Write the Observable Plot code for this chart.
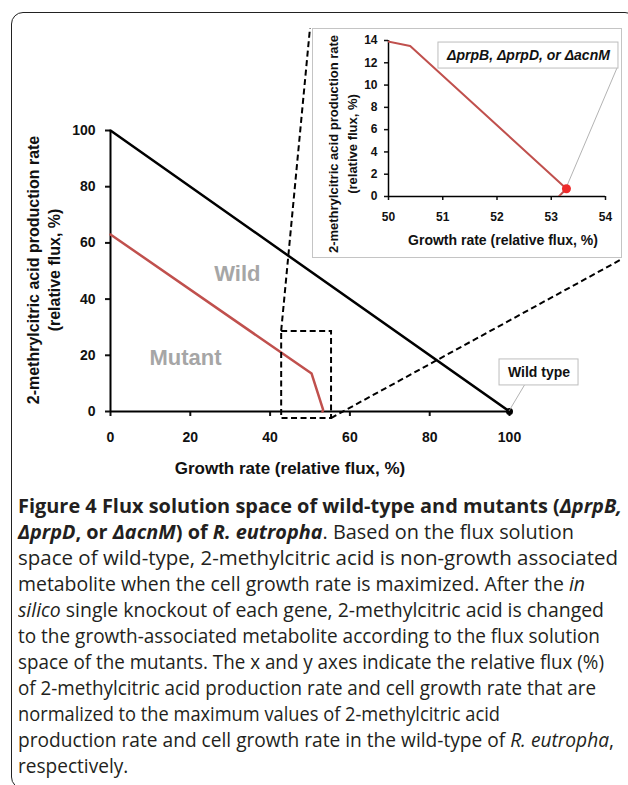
<!DOCTYPE html>
<html><head><meta charset="utf-8">
<script src="https://cdn.jsdelivr.net/npm/d3@7"></script>
<script src="https://cdn.jsdelivr.net/npm/@observablehq/plot@0.6"></script>
<style>
html,body{margin:0;padding:0;background:#fff;width:628px;height:785px;overflow:hidden}
#wrap{position:relative;width:628px;height:785px;overflow:hidden}
#frame{position:absolute;left:11px;top:12px;width:626px;height:777px;border:1.5px solid #222;border-radius:12px;box-sizing:border-box}
#main{position:absolute;left:0;top:0}
#inset{position:absolute;left:312px;top:28px;width:310px;height:230px;background:#fff}
#inset svg{outline:1px solid #c4c4c4;outline-offset:-1px}
#main g[aria-label*="axis"] line,#main g[aria-label*="axis"] path{stroke-width:2px}
#inset g[aria-label*="axis"] line,#inset g[aria-label*="axis"] path{stroke-width:1.5px}
#caption{position:absolute;left:18px;top:493px;font-family:"Open Sans",sans-serif;font-size:19.5px;line-height:26px;color:#231f20;white-space:nowrap}
#caption .ln{display:block;height:26px}
#caption .ln span{display:inline-block;transform-origin:0 50%}
</style></head>
<body><div id="wrap"><div id="frame"></div><div id="main"></div><div id="inset"></div><div id="caption"></div></div>
<script>
// ---- data ----
const wildX = [0, 100];
const wildY = [100, 0];
const mutantX = [0, 50.4, 53.28, 53.14];
const mutantY = [63, 13.5, 0.7, 0];
const mutantEndX = [53.28];
const mutantEndY = [0.7];
const wildEndX = [100];
const wildEndY = [0];
const mainXTicks = [0, 20, 40, 60, 80, 100];
const mainYTicks = [0, 20, 40, 60, 80, 100];
const insetXTicks = [50, 51, 52, 53, 54];
const insetYTicks = [0, 2, 4, 6, 8, 10, 12, 14];
const zoomX = [42.9, 55.4];
const zoomY = [-2.5, 28.5];
const regionNames = ["Wild", "Mutant"];
const regionX = [31.8, 18.8];
const regionY = [48.8, 19.2];
const wildLabel = ["Wild type"];
const wildLabelX = [107.4];
const wildLabelY = [13.9];
const mutLabel = ["\u0394prpB, \u0394prpD, or \u0394acnM"];
const mutLabelX = [52.58];
const mutLabelY = [12.65];
const yTitle = ["2-methrylcitric acid production rate", "(relative flux, %)"];
const xTitle = "Growth rate (relative flux, %)";
const captionLines = [
  '<b>Figure 4 Flux solution space of wild-type and mutants (<i>\u0394prpB,</i></b>',
  '<b><i>\u0394prpD</i>, or <i>\u0394acnM</i>) of <i>R. eutropha</i></b>. Based on the flux solution',
  'space of wild-type, 2-methylcitric acid is non-growth associated',
  'metabolite when the cell growth rate is maximized. After the <i>in</i>',
  '<i>silico</i> single knockout of each gene, 2-methylcitric acid is changed',
  'to the growth-associated metabolite according to the flux solution',
  'space of the mutants. The x and y axes indicate the relative flux (%)',
  'of 2-methylcitric acid production rate and cell growth rate that are',
  'normalized to the maximum values of 2-methylcitric acid',
  'production rate and cell growth rate in the wild-type of <i>R. eutropha</i>,',
  'respectively.'
];
// right edge of each caption line in the reference (layout)
const captionRight = [622, 574, 618, 585, 604, 600, 604, 596, 500, 614, 114];

const F = '"Liberation Sans", Arial, Helvetica, sans-serif';
const pts = (xs, ys) => xs.map((x, i) => ({x, y: ys[i]}));
const wild = pts(wildX, wildY);
const mutant = pts(mutantX, mutantY);
const zoomBox = [{x1: zoomX[0], x2: zoomX[1], y1: zoomY[0], y2: zoomY[1]}];
const regions = regionNames.map((t, i) => ({t, x: regionX[i], y: regionY[i]}));

// inset box placement (layout)
const IN = {left: 312, top: 28, w: 310, h: 230};

function textEl(g, x, y, str, opts) {
  return g.append("text").attr("transform", `translate(${x},${y}) rotate(${opts.rotate || 0})`)
    .attr("text-anchor", "middle").attr("dy", "0.35em")
    .attr("font-family", F).attr("font-weight", "bold").attr("font-size", opts.size)
    .attr("fill", "#111").text(str);
}

const main = Plot.plot({
  width: 628, height: 490,
  marginLeft: 110, marginRight: 119, marginTop: 130, marginBottom: 79,
  style: {fontFamily: F, fontSize: "14px", fontWeight: "bold", color: "#111", background: "transparent", overflow: "visible"},
  x: {domain: [0, 100], ticks: mainXTicks, tickSize: 5, tickPadding: 16, label: null, tickFormat: d3.format("d")},
  y: {domain: [0, 100], ticks: mainYTicks, tickSize: 5, tickPadding: 10, label: null, tickFormat: d3.format("d")},
  marks: [
    Plot.ruleY([0], {x1: 0, x2: 100, stroke: "#000", strokeWidth: 2}),
    Plot.ruleX([0], {y1: 0, y2: 100, stroke: "#000", strokeWidth: 2}),
    Plot.line(wild, {x: "x", y: "y", stroke: "#000", strokeWidth: 2.5}),
    Plot.line(mutant, {x: "x", y: "y", stroke: "#c0504d", strokeWidth: 2.5}),
    Plot.dot(pts(wildEndX, wildEndY), {x: "x", y: "y", r: 3.5, fill: "#000"}),
    Plot.rect(zoomBox, {x1: "x1", x2: "x2", y1: "y1", y2: "y2", fill: "none", stroke: "#000", strokeWidth: 2, strokeDasharray: "6,3.5"}),
    Plot.text(regions, {x: "x", y: "y", text: "t", fill: "#a6a6a6", fontSize: 22, fontWeight: "bold"}),
    (index, scales) => {
      const sx = scales.x, sy = scales.y;
      const g = d3.create("svg:g");
      g.append("line").attr("x1", sx(zoomX[0])).attr("y1", sy(zoomY[1])).attr("x2", IN.left - 2).attr("y2", IN.top)
        .attr("stroke", "#000").attr("stroke-width", 2).attr("stroke-dasharray", "6,3.5");
      g.append("line").attr("x1", sx(zoomX[1])).attr("y1", sy(zoomY[0])).attr("x2", IN.left + IN.w).attr("y2", IN.top + IN.h + 1)
        .attr("stroke", "#000").attr("stroke-width", 2).attr("stroke-dasharray", "6,3.5");
      const cx = sx(wildLabelX[0]), cy = sy(wildLabelY[0]);
      g.append("line").attr("x1", cx - 14).attr("y1", cy + 13).attr("x2", sx(wildEndX[0])).attr("y2", sy(wildEndY[0]))
        .attr("stroke", "#a0a0a0").attr("stroke-width", 0.8);
      g.append("rect").attr("x", cx - 39.5).attr("y", cy - 13).attr("width", 79).attr("height", 26)
        .attr("fill", "#fff").attr("stroke", "#bdbdbd").attr("stroke-width", 1);
      textEl(g, 290, 468, xTitle, {size: 17});
      textEl(g, 33, 270, yTitle[0], {size: 16, rotate: -90});
      textEl(g, 54, 270, yTitle[1], {size: 16, rotate: -90});
      return g.node();
    },
    Plot.text(wildLabel, {x: wildLabelX, y: wildLabelY, text: d => d, fontSize: 14, fontWeight: "bold", fill: "#111"})
  ]
});
document.getElementById("main").appendChild(main);

const inset = Plot.plot({
  width: IN.w, height: IN.h,
  marginLeft: 76, marginRight: 17, marginTop: 12, marginBottom: 62,
  style: {fontFamily: F, fontSize: "12px", fontWeight: "bold", color: "#111", background: "#fff", overflow: "visible"},
  x: {domain: [50, 54], ticks: insetXTicks, tickSize: 4, tickPadding: 12, label: null, tickFormat: d3.format("d")},
  y: {domain: [0, 14], ticks: insetYTicks, tickSize: 4, tickPadding: 7, label: null, tickFormat: d3.format("d")},
  marks: [
    Plot.ruleY([0], {x1: 50, x2: 54, stroke: "#000", strokeWidth: 1.5}),
    Plot.ruleX([50], {y1: 0, y2: 14, stroke: "#000", strokeWidth: 1.5}),
    Plot.line(mutant, {x: "x", y: "y", stroke: "#c0504d", strokeWidth: 2, clip: true}),
    (index, scales) => {
      const sx = scales.x, sy = scales.y;
      const g = d3.create("svg:g");
      const cx = sx(mutLabelX[0]), cy = sy(mutLabelY[0]);
      g.append("line").attr("x1", cx + 89).attr("y1", cy + 13).attr("x2", sx(mutantEndX[0])).attr("y2", sy(mutantEndY[0]))
        .attr("stroke", "#a0a0a0").attr("stroke-width", 0.8);
      g.append("rect").attr("x", cx - 90).attr("y", cy - 13).attr("width", 180).attr("height", 26)
        .attr("fill", "#fff").attr("stroke", "#bdbdbd").attr("stroke-width", 1);
      textEl(g, 191, 212, xTitle, {size: 14});
      textEl(g, 21, 116, yTitle[0], {size: 13, rotate: -90});
      textEl(g, 40, 116, yTitle[1], {size: 13, rotate: -90});
      return g.node();
    },
    Plot.dot(pts(mutantEndX, mutantEndY), {x: "x", y: "y", r: 4.5, fill: "#ee2a2a"}),
    Plot.text(mutLabel, {x: mutLabelX, y: mutLabelY, text: d => d, fontSize: 14, fontWeight: "bold", fontStyle: "italic", fill: "#111"})
  ]
});
document.getElementById("inset").appendChild(inset);

// caption: one line per row, each fitted to its reference width
const cap = document.getElementById("caption");
const spans = captionLines.map(html => {
  const ln = document.createElement("div"); ln.className = "ln";
  const sp = document.createElement("span"); sp.innerHTML = html;
  ln.appendChild(sp); cap.appendChild(ln); return sp;
});
const ks = spans.map((sp, i) => (captionRight[i] - 18) / sp.getBoundingClientRect().width);
const regK = d3.median(ks.slice(2, 10));
spans.forEach((sp, i) => {
  const k = i === spans.length - 1 ? regK : ks[i];
  sp.style.transform = `scaleX(${k.toFixed(4)})`;
});
</script>
</body></html>
